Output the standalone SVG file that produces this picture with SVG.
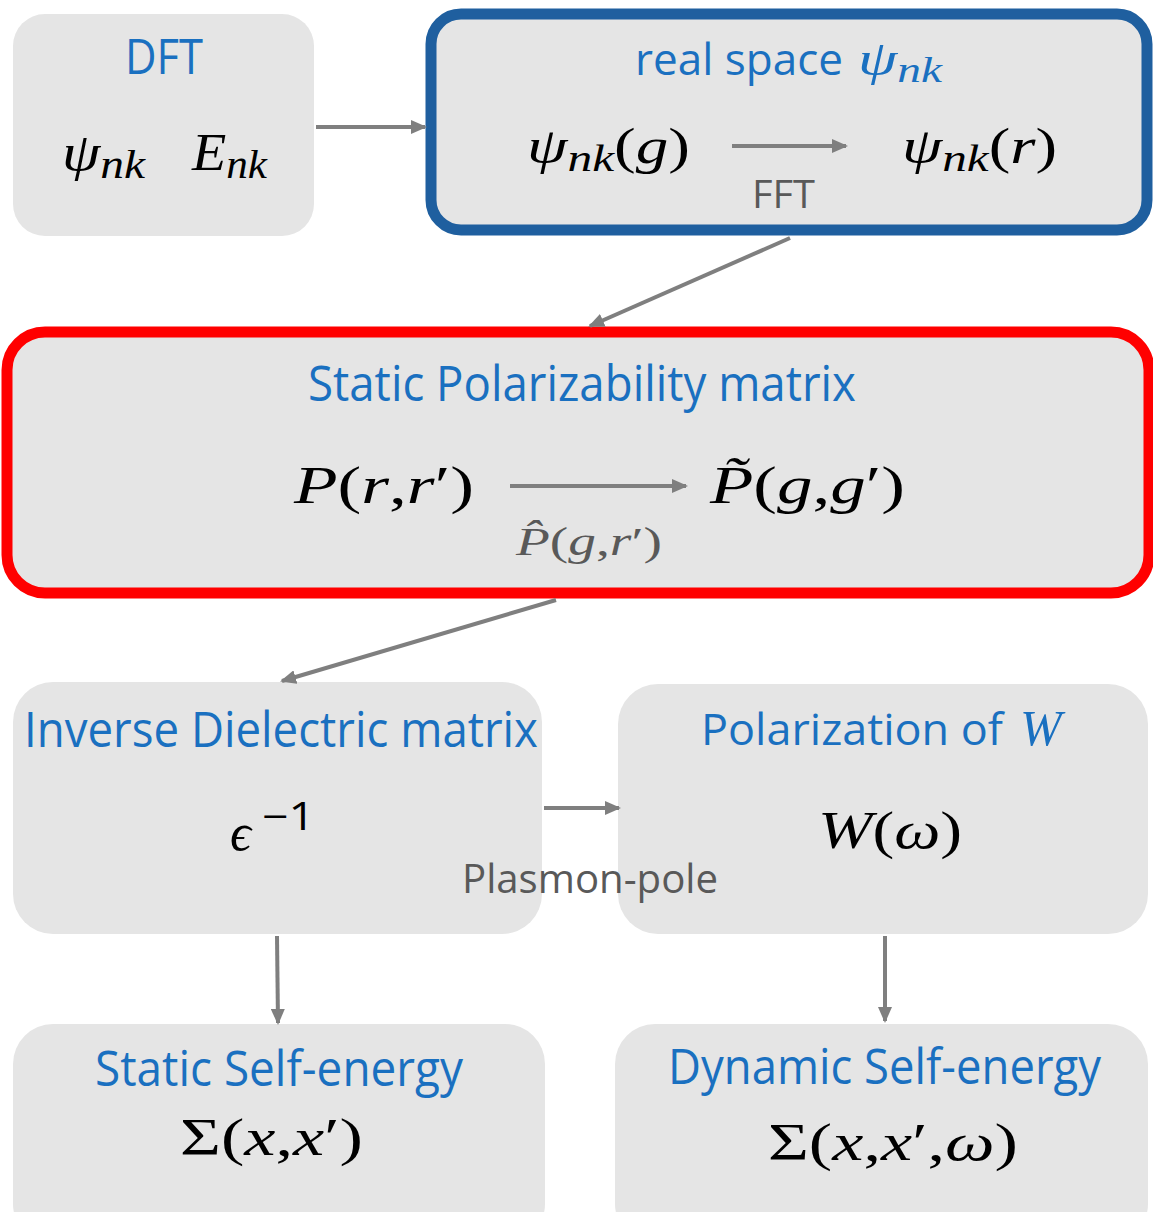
<svg xmlns="http://www.w3.org/2000/svg" width="1153" height="1212" viewBox="0 0 1153 1212">
<style>
.box{fill:#e5e5e5}
.ttl{font-family:"Open Sans","Noto Sans",sans-serif;fill:#1a70c0;font-size:49px}
.lbl{font-family:"Open Sans","Noto Sans",sans-serif;fill:#595959}
.m{font-family:"Liberation Serif","DejaVu Serif",serif;font-style:italic;fill:#000}
.mu{font-family:"Liberation Serif","DejaVu Serif",serif;font-style:normal;fill:#000}
.c{stroke:#7f7f7f;stroke-width:4;fill:none;marker-end:url(#ah)}
</style>
<defs>
<marker id="ah" markerWidth="16" markerHeight="14" refX="14" refY="7" orient="auto" markerUnits="userSpaceOnUse"><path d="M0,0 L16,7 L0,14 z" fill="#7f7f7f"/></marker>
</defs>
<rect width="1153" height="1212" fill="#fff"/>
<g id="dft">
<rect class="box" x="13" y="14" width="301" height="222" rx="32"/>
<text class="ttl" x="125" y="74" textLength="78" lengthAdjust="spacingAndGlyphs">DFT</text>
<text class="m" x="62" y="170" font-size="52" textLength="83" lengthAdjust="spacingAndGlyphs">ψ<tspan font-size="40" dy="8">nk</tspan></text>
<text class="m" x="192" y="170" font-size="52" textLength="75" lengthAdjust="spacingAndGlyphs">E<tspan font-size="40" dy="8">nk</tspan></text>
</g>
<g id="realspace">
<rect class="box" x="431" y="14" width="716" height="216" rx="30" stroke="#1f5f9f" stroke-width="11"/>
<text class="ttl" x="635" y="75" font-size="43" style="font-size:43px" textLength="208" lengthAdjust="spacingAndGlyphs">real space</text>
<text class="m" x="858" y="75" font-size="48" style="fill:#1a70c0" textLength="84" lengthAdjust="spacingAndGlyphs">ψ<tspan font-size="36" dy="7">nk</tspan></text>
<text class="m" x="527" y="163" font-size="50" textLength="163" lengthAdjust="spacingAndGlyphs">ψ<tspan font-size="38" dy="8">nk</tspan><tspan dy="-8" class="mu">(</tspan>g<tspan class="mu">)</tspan></text>
<text class="m" x="902" y="163" font-size="50" textLength="155" lengthAdjust="spacingAndGlyphs">ψ<tspan font-size="38" dy="8">nk</tspan><tspan dy="-8" class="mu">(</tspan>r<tspan class="mu">)</tspan></text>
<text class="lbl" x="752" y="208" font-size="38" textLength="63" lengthAdjust="spacingAndGlyphs">FFT</text>
</g>
<g id="polarizability">
<rect class="box" x="7" y="332" width="1142" height="261" rx="38" stroke="#ff0000" stroke-width="11"/>
<text class="ttl" x="308" y="401" textLength="548" lengthAdjust="spacingAndGlyphs">Static Polarizability matrix</text>
<text class="m" x="294" y="503" font-size="52" textLength="180" lengthAdjust="spacingAndGlyphs">P<tspan class="mu">(</tspan>r<tspan class="mu">,</tspan>r<tspan class="mu">′)</tspan></text>
<text class="m" x="710" y="503" font-size="52" textLength="195" lengthAdjust="spacingAndGlyphs">P̃<tspan class="mu">(</tspan>g<tspan class="mu">,</tspan>g<tspan class="mu">′)</tspan></text>
<text class="m" x="516" y="555" font-size="40" style="fill:#595959" textLength="146" lengthAdjust="spacingAndGlyphs">P̂<tspan class="mu" style="fill:#595959">(</tspan>g<tspan class="mu" style="fill:#595959">,</tspan>r<tspan class="mu" style="fill:#595959">′)</tspan></text>
</g>
<g id="inverse">
<rect class="box" x="13" y="682" width="529" height="252" rx="40"/>
<text class="ttl" x="24" y="747" textLength="514" lengthAdjust="spacingAndGlyphs">Inverse Dielectric matrix</text>
<text class="m" x="230" y="850" font-size="52">ϵ</text>
<text class="lbl" x="262" y="830" font-size="38" style="fill:#000" textLength="53" lengthAdjust="spacingAndGlyphs">−1</text>
</g>
<g id="polw">
<rect class="box" x="618" y="684" width="530" height="250" rx="40"/>
<text class="ttl" x="701" y="745" style="font-size:44px" textLength="302" lengthAdjust="spacingAndGlyphs">Polarization of</text>
<text class="m" x="1020" y="745" font-size="50" style="fill:#1a70c0">W</text>
<text class="m" x="818" y="848" font-size="52" textLength="144" lengthAdjust="spacingAndGlyphs">W<tspan class="mu">(</tspan>ω<tspan class="mu">)</tspan></text>
</g>
<text class="lbl" x="462" y="893" font-size="40" textLength="256" lengthAdjust="spacingAndGlyphs">Plasmon-pole</text>
<g id="static">
<rect class="box" x="13" y="1024" width="532" height="220" rx="40"/>
<text class="ttl" x="95" y="1086" textLength="368" lengthAdjust="spacingAndGlyphs">Static Self-energy</text>
<text class="m" x="180" y="1155" font-size="52" textLength="183" lengthAdjust="spacingAndGlyphs"><tspan class="mu">Σ(</tspan>x<tspan class="mu">,</tspan>x<tspan class="mu">′)</tspan></text>
</g>
<g id="dynamic">
<rect class="box" x="615" y="1024" width="533" height="220" rx="40"/>
<text class="ttl" x="668" y="1084" textLength="433" lengthAdjust="spacingAndGlyphs">Dynamic Self-energy</text>
<text class="m" x="768" y="1160" font-size="52" textLength="250" lengthAdjust="spacingAndGlyphs"><tspan class="mu">Σ(</tspan>x<tspan class="mu">,</tspan>x<tspan class="mu">′,</tspan>ω<tspan class="mu">)</tspan></text>
</g>
<g id="connectors">
<line class="c" x1="316" y1="127" x2="425" y2="127"/>
<line class="c" x1="790" y1="238" x2="590" y2="326"/>
<line class="c" x1="732" y1="146" x2="846" y2="146"/>
<line class="c" x1="510" y1="486" x2="686" y2="486"/>
<line class="c" x1="556" y1="600" x2="282" y2="681"/>
<line class="c" x1="544" y1="808" x2="619" y2="808"/>
<line class="c" x1="277" y1="936" x2="278" y2="1023"/>
<line class="c" x1="885" y1="936" x2="885" y2="1021"/>
</g>
</svg>
